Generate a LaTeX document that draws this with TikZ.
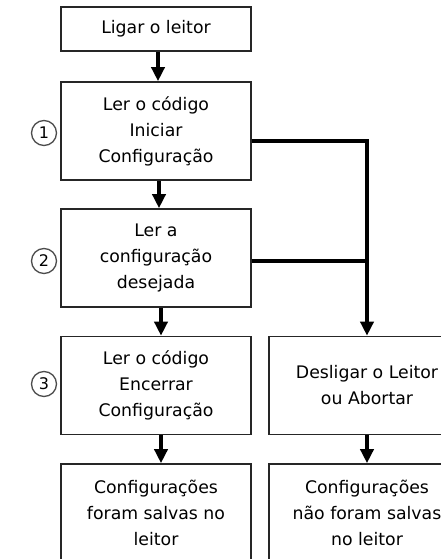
\documentclass[tikz,border=0pt]{standalone}
\usepackage{fontspec}
\setmainfont{DejaVu Sans}
\usetikzlibrary{arrows.meta,calc}
\begin{document}
\begin{tikzpicture}[x=1pt,y=-1pt,
  box/.style={draw=black!85,line width=1.6pt,minimum width=190pt,minimum height=98pt,
    align=center,font=\fontsize{17.3}{26}\selectfont,inner sep=0pt},
  topbox/.style={box,minimum height=44pt},
  rbox/.style={box,minimum width=196pt},
  num/.style={circle,draw=black!70,line width=1.3pt,minimum size=25pt,inner sep=0pt,
    font=\fontsize{16}{16}\selectfont},
  flow/.style={line width=4pt,-{Triangle[length=14pt,width=13pt]}},
  link/.style={line width=4pt}]
\useasboundingbox (0,0) rectangle (441,559);
\clip (0,0) rectangle (441,559);
\node[topbox] (ligar) at (156,29) {Ligar o leitor};
\node[box] (b1) at (156,131) {Ler o código\\Iniciar\\Configuração};
\node[box] (b2) at (156,258) {Ler a\\configuração\\desejada};
\node[box] (b3) at (156,385.5) {Ler o código\\Encerrar\\Configuração};
\node[rbox] (abort) at (367,385.5) {Desligar o Leitor\\ou Abortar};
\node[box] (ok) at (156,513) {Configurações\\foram salvas no\\leitor};
\node[rbox] (nok) at (367,513) {Configurações\\não foram salvas\\no leitor};
\node[num] (n1) at (44,133) {1};
\node[num] (n2) at (44,261) {2};
\node[num] (n3) at (44,384) {3};
\coordinate (j1) at (367,141);
\coordinate (j2) at (367,261);
\draw[flow] ($(ligar.south)+(2,0)$) -- ($(b1.north)+(2,0)$);
\draw[flow] ($(b1.south)+(3,0)$) -- ($(b2.north)+(3,0)$);
\draw[flow] ($(b2.south)+(5,0)$) -- ($(b3.north)+(5,0)$);
\draw[flow] ($(b3.south)+(5,0)$) -- ($(ok.north)+(5,0)$);
\draw[flow] (abort.south) -- (nok.north);
\draw[link] (b1.east |- j1) -- (j1);
\draw[link] (b2.east |- j2) -- (j2);
\draw[flow] ($(j1)+(0,-2)$) -- (abort.north);
\end{tikzpicture}
\end{document}
